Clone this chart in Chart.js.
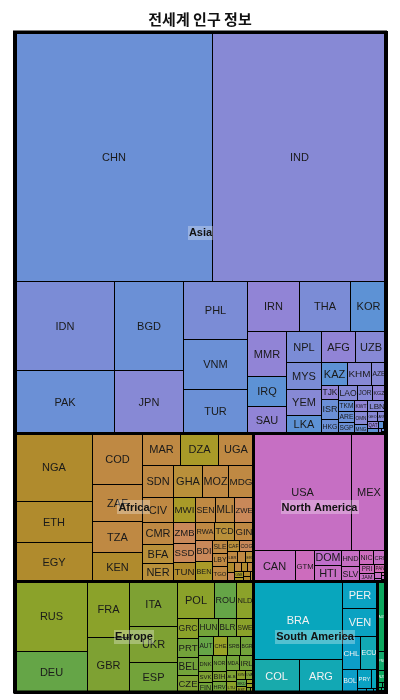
<!DOCTYPE html>
<html><head><meta charset="utf-8">
<script src="https://cdn.jsdelivr.net/npm/chart.js@4.4.1/dist/chart.umd.min.js"></script>
<style>html,body{margin:0;padding:0;background:#fff;}canvas{display:block;}</style>
</head><body>
<canvas id="c" width="400" height="700"></canvas>
<script>
// ---------------- DATA (population, millions) ----------------
const continents = ["Asia","Africa","Europe","North America","South America","Oceania"];

const asiaCodes = ["CHN","IND","IDN","PAK","BGD","JPN","PHL","VNM","TUR","IRN","THA","KOR","MMR","IRQ","SAU","NPL","AFG","UZB","MYS","YEM","LKA","KAZ","KHM","AZE","TJK","ISR","HKG","LAO","JOR","KGZ","TKM","ARE","SGP","KWT","LBN","OMN","MNG","GEO","ARM","QAT","BHR","TLS","BTN","MAC","MDV","BRN"];
const asiaValues = [1557.7,1370.3,281.9,198.7,195.8,138.1,117.7,101.6,87.4,82.3,80.6,56.9,56.1,37.4,32.5,34.3,33.4,30.3,30.2,29.0,20.0,19.0,17.6,10.3,7.5,11.0,7.2,8.9,7.3,6.5,5.6,5.2,5.3,4.8,6.5,5.6,3.7,3.2,2.6,2.4,1.4,1.0,0.6,0.5,0.4,0.3];

const africaCodes = ["NGA","ETH","EGY","COD","ZAF","TZA","KEN","MAR","DZA","UGA","SDN","GHA","MOZ","MDG","CIV","CMR","BFA","NER","MWI","SEN","MLI","ZWE","ZMB","SSD","TUN","RWA","TCD","GIN","BDI","BEN","SLE","LBY","TGO","CAF","COG","LBR","MRT","ERI","NAM","GMB","BWA","GAB","LSO","GNB","GNQ","MUS","SWZ","DJI"];
const africaValues = [170.0,101.0,95.0,79.5,58.1,49.3,44.5,40.3,39.3,35.7,31.7,28.8,25.6,25.0,25.5,22.1,18.5,17.8,16.9,15.7,14.9,14.4,14.7,12.4,12.9,11.6,11.8,10.9,11.6,10.6,6.2,6.0,6.8,4.2,4.8,3.5,2.9,2.6,2.3,2.1,1.9,1.8,1.6,1.5,1.1,1.0,0.9,0.8];

const europeCodes = ["RUS","DEU","FRA","GBR","ITA","UKR","ESP","POL","ROU","NLD","GRC","PRT","BEL","CZE","HUN","BLR","SWE","AUT","CHE","SRB","BGR","DNK","SVK","FIN","NOR","BIH","HRV","MDA","IRL","ALB","LTU","SVN","LVA","MKD","EST","MNE","LUX","MLT","ISL"];
const europeValues = [163.0,93.5,75.0,72.0,69.0,56.0,45.5,44.0,25.8,20.2,12.9,12.9,12.0,11.4,11.5,10.5,9.5,8.9,8.5,7.7,7.5,7.1,5.0,4.8,6.6,4.5,4.5,6.3,6.1,3.7,3.5,2.6,2.4,2.4,1.8,0.8,0.8,0.6,0.5];

const northAmericaCodes = ["USA","MEX","CAN","GTM","DOM","HTI","HND","SLV","NIC","CRI","PRI","JAM","PAN","TTO","BHS","BLZ","BRB","LCA","VCT","GRD"];
const northAmericaValues = [366.5,128.7,41.3,18.4,12.9,12.9,9.1,8.4,6.1,5.3,4.8,3.5,3.1,1.3,0.5,0.4,0.3,0.2,0.1,0.1];

const southAmericaCodes = ["BRA","COL","ARG","PER","VEN","CHL","ECU","BOL","PRY","URY","GUY","SUR","GUF"];
const southAmericaValues = [222.3,49.1,45.7,30.1,30.5,18.7,16.7,10.7,8.3,3.4,1.3,1.0,0.5];

const oceaniaCodes = ["AUS","PNG","NZL","FJI","SLB","VUT","NCL","PYF","WSM","GUM"];
const oceaniaValues = [19.7,5.5,3.4,0.8,0.6,0.3,0.3,0.3,0.2,0.2];

const groupCodes = [asiaCodes, africaCodes, europeCodes, northAmericaCodes, southAmericaCodes, oceaniaCodes];
const groupValues = [asiaValues, africaValues, europeValues, northAmericaValues, southAmericaValues, oceaniaValues];

// ---------------- STYLE ----------------
const palettes = {
  "Asia": ["#5d92d5","#6b90d6","#7b8cd6","#8789d5","#9184d6"],
  "Africa": ["#a99a28","#b08b2d","#b9903a","#bf8943","#c98859"],
  "Europe": ["#65a547","#73a33a","#7ea133","#8ba22a","#98a326"],
  "North America": ["#c06ecb","#c66fc3","#cd6cbd","#d46ab5"],
  "South America": ["#0c9ec8","#0aa2c2","#08a6bd","#12a8b4","#18aaac"],
  "Oceania": ["#0ca85e","#12a86c","#1aa87c"]
};
const labelColors = {"Asia":"#1a1a1a","Africa":"#1a1a1a","Europe":"#1a1a1a","North America":"#1a1a1a","South America":"#f2f2f2","Oceania":"#f2f2f2"};
const shadeIndex = {
  CHN:1,IND:3,IDN:2,PAK:1,BGD:1,JPN:3,PHL:2,VNM:1,TUR:1,IRN:4,THA:2,KOR:0,MMR:4,IRQ:0,SAU:4,NPL:2,AFG:4,UZB:3,MYS:2,YEM:3,LKA:0,KAZ:0,KHM:3,AZE:3,TJK:4,ISR:1,HKG:1,LAO:3,JOR:3,KGZ:4,TKM:1,ARE:1,SGP:1,KWT:4,LBN:3,OMN:3,MNG:1,
  NGA:1,ETH:1,EGY:1,COD:3,ZAF:3,TZA:3,KEN:1,MAR:3,DZA:0,UGA:3,SDN:3,GHA:2,MOZ:3,MDG:3,CIV:3,CMR:3,BFA:2,NER:2,MWI:0,SEN:3,MLI:3,ZWE:4,ZMB:4,SSD:4,TUN:1,RWA:3,TCD:2,GIN:3,BDI:4,BEN:0,SLE:3,LBY:3,TGO:3,CAF:2,COG:4,LBR:3,
  RUS:3,DEU:0,FRA:3,GBR:2,ITA:2,UKR:2,ESP:1,POL:3,ROU:0,NLD:3,GRC:3,PRT:1,BEL:1,CZE:2,HUN:1,BLR:1,SWE:3,AUT:0,CHE:4,SRB:1,BGR:1,DNK:1,SVK:2,FIN:1,NOR:1,BIH:2,HRV:1,MDA:1,IRL:1,ALB:2,LTU:3,
  USA:1,MEX:1,CAN:1,GTM:2,DOM:0,HTI:1,HND:1,SLV:1,NIC:2,CRI:1,PRI:2,JAM:1,
  BRA:2,PER:1,VEN:1,COL:4,ARG:3,CHL:0,ECU:3,BOL:0,PRY:1,URY:2,
  AUS:0,PNG:1,NZL:0
};
function colorFor(group, code) {
  const p = palettes[group];
  let i = shadeIndex[code];
  if (i === undefined) { let h = 0; for (const ch of code) h = (h * 31 + ch.charCodeAt(0)) % 1009; i = h % p.length; }
  return p[Math.min(i, p.length - 1)];
}

// ---------------- PIVOT (ordered) TREEMAP LAYOUT in data units ----------------
function pivotLayout(items, x, y, w, h, kx, ky, out) {
  const n = items.length;
  if (!n) return;
  if (n === 1) { out(items[0], {x, y, w, h}); return; }
  const total = items.reduce((s, d) => s + d.v, 0);
  const P = items[0];
  const wide = w * kx >= h * ky;
  let best = Infinity, bestK = 0, acc = 0;
  for (let k = 0; k < n; k++) {
    acc += items[k].v;
    let a, b;
    if (wide) { a = w * (acc / total) * kx; b = h * (P.v / acc) * ky; }
    else { a = h * (acc / total) * ky; b = w * (P.v / acc) * kx; }
    const r = Math.max(a / b, b / a);
    if (r < best) { best = r; bestK = k; } else break;
  }
  let acc2 = 0; for (let k = 0; k <= bestK; k++) acc2 += items[k].v;
  const L2 = items.slice(1, bestK + 1), L3 = items.slice(bestK + 1);
  if (wide) {
    const cw = w * acc2 / total, ph = h * P.v / acc2;
    out(P, {x, y, w: cw, h: ph});
    pivotLayout(L2, x, y + ph, cw, h - ph, kx, ky, out);
    pivotLayout(L3, x + cw, y, w - cw, h, kx, ky, out);
  } else {
    const rh = h * acc2 / total, pw = w * P.v / acc2;
    out(P, {x, y, w: pw, h: rh});
    pivotLayout(L2, x + pw, y, w - pw, rh, kx, ky, out);
    pivotLayout(L3, x, y + rh, w, h - rh, kx, ky, out);
  }
}

const FONT = "'Liberation Sans', Arial, sans-serif";

const treemapPlugin = {
  id: 'treemapCells',
  afterDatasetsDraw(chart) {
    const ctx = chart.ctx;
    const xs = chart.scales.x, ys = chart.scales.y;
    const kx = Math.abs(xs.getPixelForValue(1) - xs.getPixelForValue(0));
    const ky = Math.abs(ys.getPixelForValue(1) - ys.getPixelForValue(0));
    const groups = continents.map((name, gi) => ({name, gi, v: groupValues[gi].reduce((s, d) => s + d, 0)}));
    const groupRects = [];
    pivotLayout(groups, 0, 0, 1, 1, kx, ky, (g, r) => groupRects.push({g, r}));
    const toPx = r => {
      const X0 = Math.round(xs.getPixelForValue(r.x)), X1 = Math.round(xs.getPixelForValue(r.x + r.w));
      const Y0 = Math.round(ys.getPixelForValue(r.y)), Y1 = Math.round(ys.getPixelForValue(r.y + r.h));
      return {X0, X1, Y0, Y1};
    };
    const cells = [];
    groupRects.forEach(({g, r}) => {
      const items = groupCodes[g.gi].map((c, i) => ({code: c, v: groupValues[g.gi][i]}));
      pivotLayout(items, r.x, r.y, r.w, r.h, kx, ky, (it, cr) => cells.push({group: g.name, code: it.code, r: cr}));
    });
    ctx.save();
    cells.forEach(c => {
      const p = toPx(c.r);
      ctx.fillStyle = colorFor(c.group, c.code);
      ctx.fillRect(p.X0, p.Y0, p.X1 - p.X0, p.Y1 - p.Y0);
    });
    ctx.strokeStyle = '#000'; ctx.lineWidth = 1;
    cells.forEach(c => {
      const p = toPx(c.r);
      ctx.strokeRect(p.X0 + 0.5, p.Y0 + 0.5, p.X1 - p.X0, p.Y1 - p.Y0);
    });
    ctx.textAlign = 'center'; ctx.textBaseline = 'middle';
    cells.forEach(c => {
      const p = toPx(c.r);
      const w = p.X1 - p.X0, h = p.Y1 - p.Y0;
      ctx.font = '11px ' + FONT;
      const tw = ctx.measureText(c.code).width;
      let f = Math.min(11, 11 * (w - 2) / tw, (h - 2) * 0.9);
      if (f < 3) return;
      ctx.font = f.toFixed(1) + 'px ' + FONT;
      ctx.fillStyle = labelColors[c.group];
      ctx.fillText(c.code, (p.X0 + p.X1) / 2 + 0.5, (p.Y0 + p.Y1) / 2 + 1);
    });
    ctx.lineWidth = 3; ctx.strokeStyle = '#000';
    groupRects.forEach(({r}) => {
      const p = toPx(r);
      ctx.strokeRect(p.X0 + 0.5, p.Y0 + 0.5, p.X1 - p.X0, p.Y1 - p.Y0);
    });
    ctx.font = 'bold 11px ' + FONT;
    groupRects.forEach(({g, r}) => {
      const p = toPx(r);
      const cx = (p.X0 + p.X1) / 2, cy = (p.Y0 + p.Y1) / 2;
      const tw = ctx.measureText(g.name).width;
      if (tw + 4 > p.X1 - p.X0) return;
      ctx.fillStyle = 'rgba(255,255,255,0.3)';
      ctx.fillRect(Math.round(cx - tw / 2 - 1), Math.round(cy - 7), Math.round(tw + 2), 14);
      ctx.fillStyle = '#111';
      ctx.fillText(g.name, cx, cy + 0.5);
    });
    const ca = chart.chartArea;
    ctx.lineWidth = 3; ctx.strokeStyle = '#000';
    ctx.strokeRect(ca.left, ca.top, ca.right - ca.left, ca.bottom - ca.top);
    ctx.restore();
  }
};

new Chart(document.getElementById('c'), {
  type: 'scatter',
  data: { datasets: [] },
  options: {
    responsive: false,
    animation: false,
    devicePixelRatio: 1,
    layout: { padding: { left: 14.5, right: 14.5, top: 0, bottom: 8 } },
    scales: {
      x: { type: 'linear', min: 0, max: 1, display: false },
      y: { type: 'linear', min: 0, max: 1, reverse: true, display: false }
    },
    plugins: {
      legend: { display: false },
      tooltip: { enabled: false },
      title: {
        display: true,
        text: '전세계 인구 정보',
        color: '#111',
        font: { family: "'Noto Sans CJK KR', sans-serif", size: 15, weight: 'bold' },
        padding: { top: 10, bottom: 4 }
      }
    }
  },
  plugins: [treemapPlugin]
});
</script>
</body></html>
